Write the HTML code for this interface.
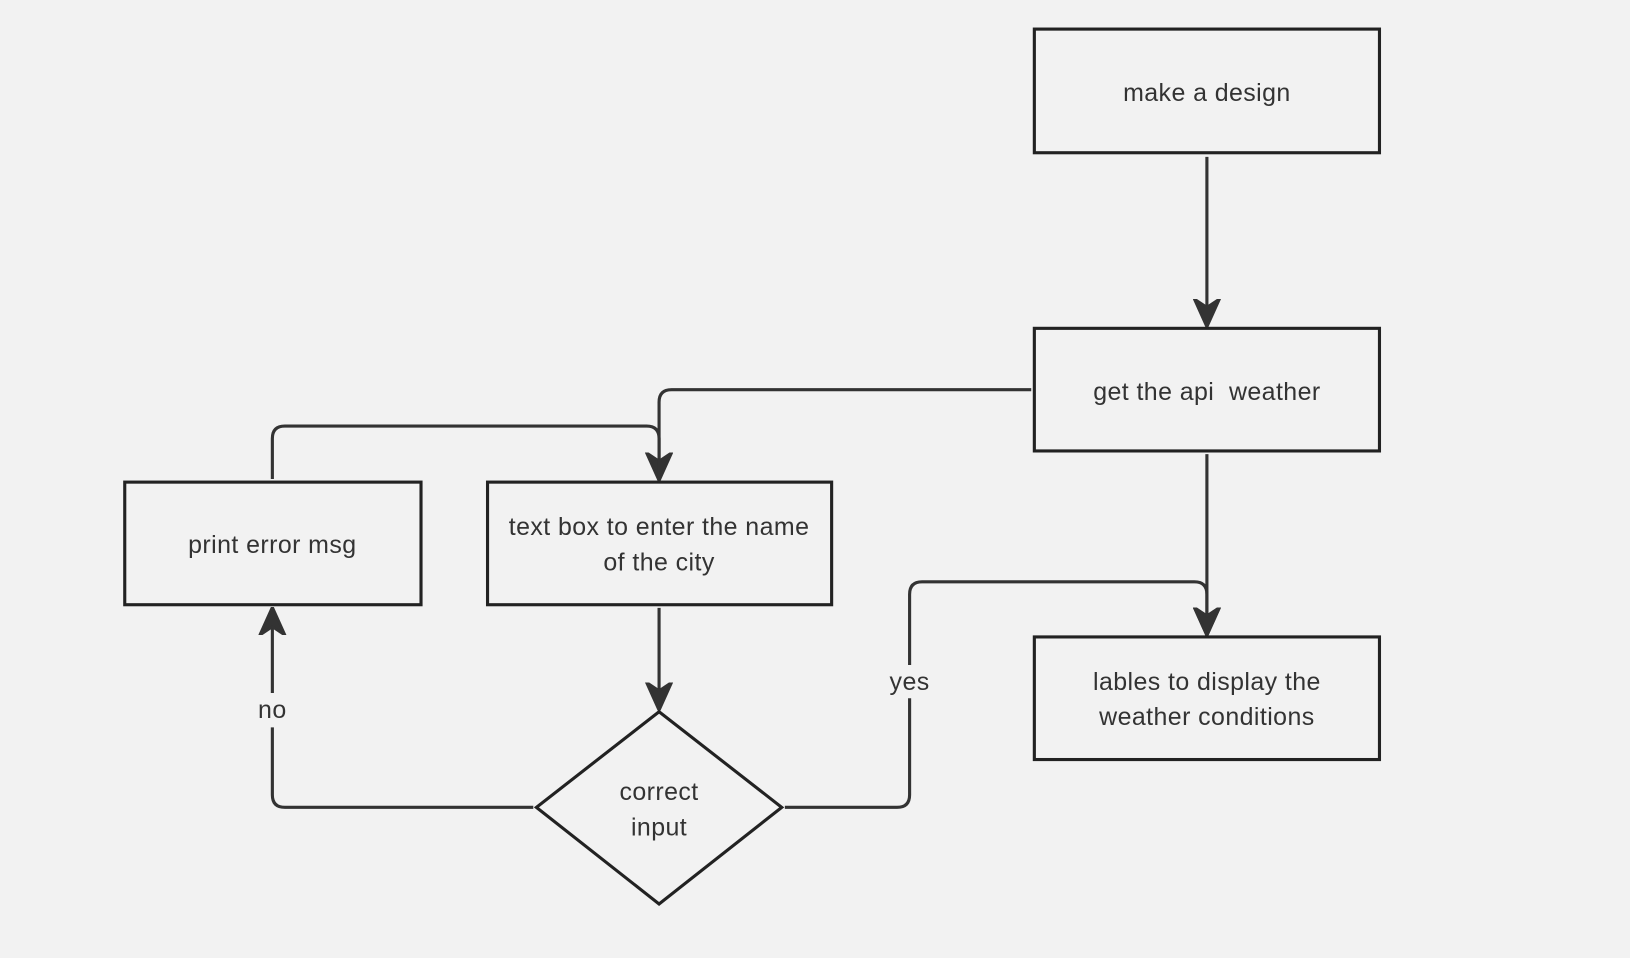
<!DOCTYPE html>
<html><head><meta charset="utf-8"><style>html,body{margin:0;padding:0;background:#f2f2f2}svg{display:block}</style></head>
<body>
<svg width="1630" height="958" viewBox="0 0 1568 922" preserveAspectRatio="none" xmlns="http://www.w3.org/2000/svg">
<rect width="1568" height="922" fill="#f2f2f2"/>
<defs><marker id="a" viewBox="0 0 10 10" refX="9" refY="5" markerWidth="9" markerHeight="9" orient="auto-start-reverse" markerUnits="strokeWidth"><path d="M0,0.5 L10,5 L0,9.5 L3,5 z" fill="#333" stroke="#333" stroke-width="1" stroke-linejoin="round"/></marker></defs>
<g fill="none" stroke="#333" stroke-width="3">
<path d="M1161,151 V312" marker-end="url(#a)"/>
<path d="M992,375 H646 Q634,375 634,387 V460" marker-end="url(#a)"/>
<path d="M262,461 V422 Q262,410 274,410 H622 Q634,410 634,422 V460"/>
<path d="M634,585 V681" marker-end="url(#a)"/>
<path d="M513,777 H274 Q262,777 262,765 V700 M262,667 V587" marker-end="url(#a)"/>
<path d="M755,777 H863 Q875,777 875,765 V672 M875,640 V572 Q875,560 887,560 H1149 Q1161,560 1161,572 V609" marker-end="url(#a)"/>
<path d="M1161,437 V609" marker-end="url(#a)"/>
</g>
<g fill="#f2f2f2" stroke="#222" stroke-width="3">
<rect x="995" y="28" width="332" height="119"/>
<rect x="995" y="316" width="332" height="118"/>
<rect x="995" y="613" width="332" height="118"/>
<rect x="120" y="464" width="285" height="118"/>
<rect x="469" y="464" width="331" height="118"/>
<path d="M634,685 L752,777 L634,870 L516,777 Z"/>
</g>
<g font-family="Liberation Sans, sans-serif" font-size="24" letter-spacing="0.4" fill="#333" text-anchor="middle">
<text x="1161" y="97">make a design</text>
<text x="1161" y="385">get the api&#160; weather</text>
<text x="1161" y="664">lables to display the</text>
<text x="1161" y="698">weather conditions</text>
<text x="262" y="532">print error msg</text>
<text x="634" y="515">text box to enter the name</text>
<text x="634" y="549">of the city</text>
<text x="634" y="770">correct</text>
<text x="634" y="804">input</text>
<text x="262" y="691">no</text>
<text x="875" y="664">yes</text>
</g>
</svg>
</body></html>
